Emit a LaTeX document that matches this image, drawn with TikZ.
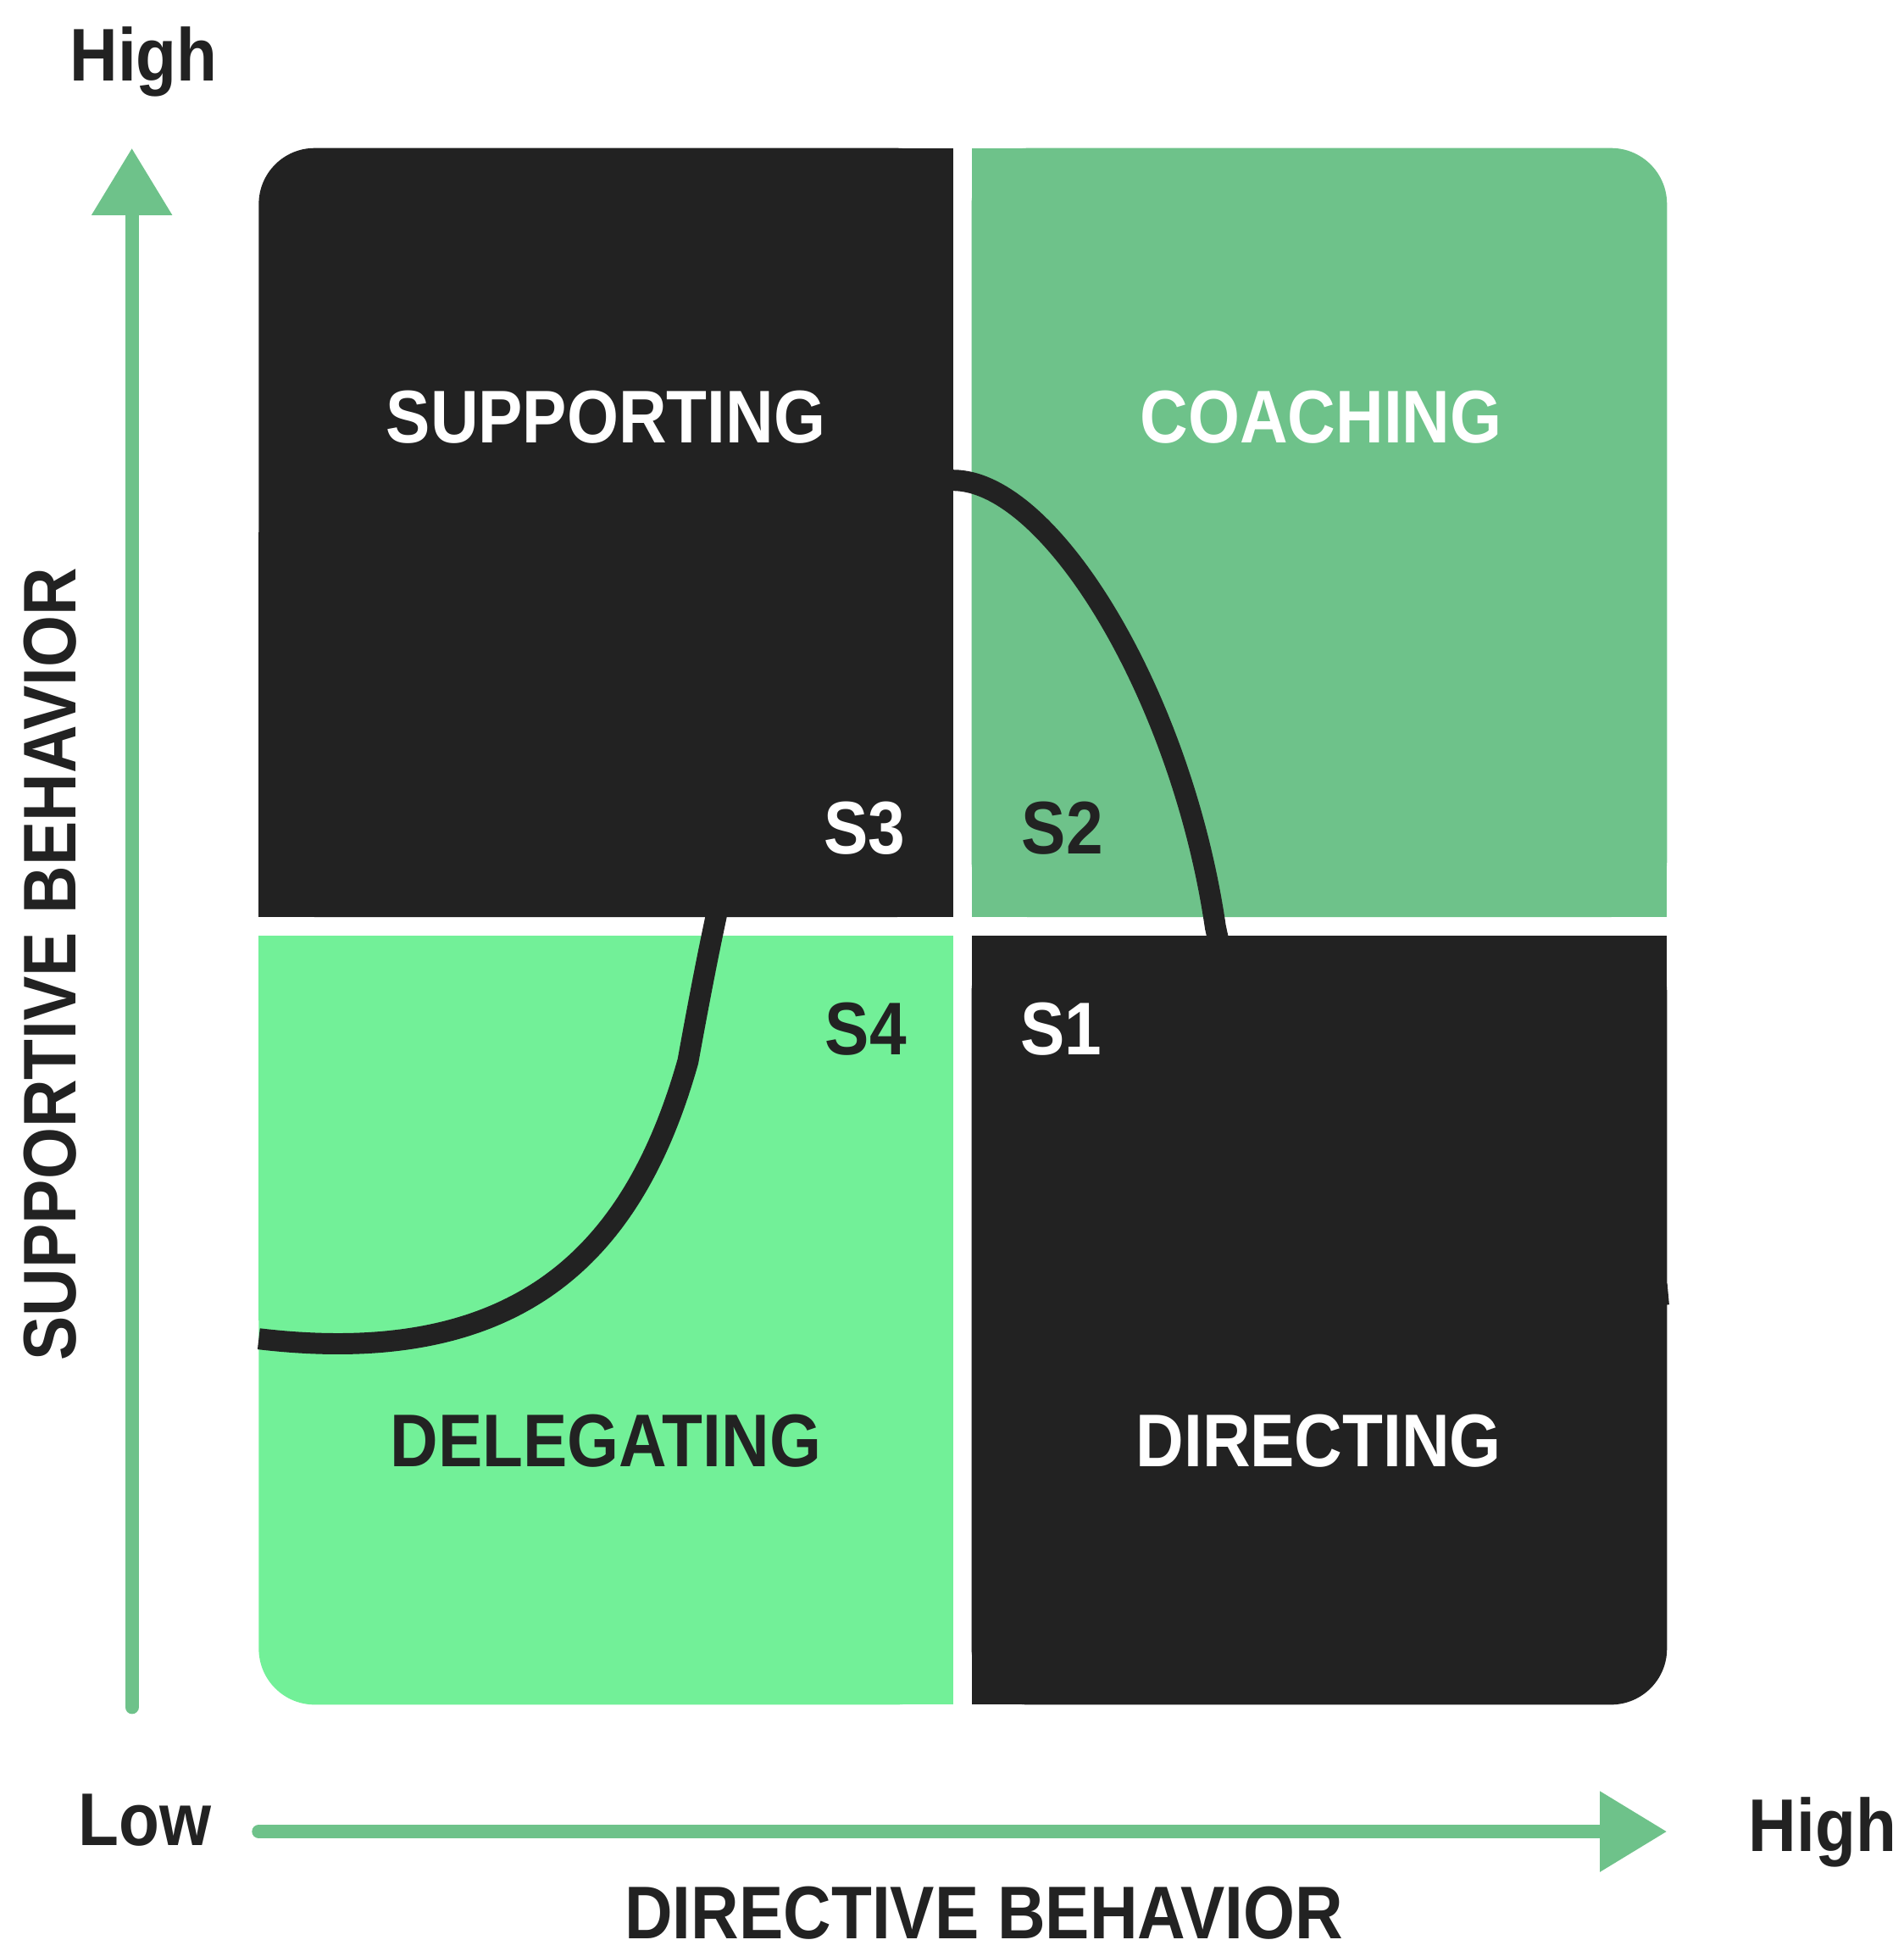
\documentclass[tikz,border=0pt]{standalone}
\usepackage{fontspec}
\setmainfont{Liberation Sans}[FakeStretch=0.89]
\usetikzlibrary{arrows.meta}
\definecolor{dk}{HTML}{222222}
\definecolor{mg}{HTML}{6EC28A}
\definecolor{lg}{HTML}{72F098}
\begin{document}
\begin{tikzpicture}[x=1pt,y=-1pt,
  lbl/.style={font=\fontsize{60}{60}\selectfont\bfseries, inner sep=0pt, anchor=base},
  axisarrow/.style={draw=mg, line width=11pt, line cap=round, -{Triangle[length=54pt,width=62pt]}},
  curveline/.style={draw=dk, line width=17pt}]
\useasboundingbox (0,0) rectangle (1530,1568);
% quadrants
\fill[dk, rounded corners=45pt] (208,119) rectangle (766,737);
\fill[dk] (487,119) rectangle (766,737);
\fill[dk] (208,428) rectangle (766,737);
\fill[mg, rounded corners=45pt] (781,119) rectangle (1340,737);
\fill[mg] (781,119) rectangle (1060,737);
\fill[mg] (781,428) rectangle (1340,737);
\fill[lg, rounded corners=45pt] (208,752) rectangle (766,1370);
\fill[lg] (487,752) rectangle (766,1370);
\fill[lg] (208,752) rectangle (766,1061);
\fill[dk, rounded corners=45pt] (781,752) rectangle (1340,1370);
\fill[dk] (781,752) rectangle (1060,1370);
\fill[dk] (781,752) rectangle (1340,1061);
% curve
\coordinate (c0) at (208,1076);
\coordinate (c1) at (553,853);
\coordinate (pk) at (766,386);
\coordinate (c3) at (977,745);
\coordinate (c4) at (1341,1040);
\draw[curveline] (c0) .. controls (420,1101) and (510,1005) .. (c1)
   .. controls (582,694) and (640,386) .. (pk)
   .. controls (845,386) and (950,560) .. (c3)
   .. controls (1015,925) and (1130,1060) .. (c4);
% axes
\coordinate (ybot) at (106,1372);
\coordinate (ytop) at (106,119);
\coordinate (xleft) at (208,1472);
\coordinate (xright) at (1340,1472);
\draw[axisarrow] (ybot) -- (ytop);
\draw[axisarrow] (xleft) -- (xright);
% quadrant labels
\node[lbl, text=white] (sup) at (487,356) {SUPPORTING};
\node[lbl, text=white] (coa) at (1062,356) {COACHING};
\node[lbl, text=dk] (del) at (487,1179) {DELEGATING};
\node[lbl, text=white] (dir) at (1060,1179) {DIRECTING};
\node[lbl, text=white] (s3) at (695,686) {S3};
\node[lbl, text=dk] (s2) at (854,686) {S2};
\node[lbl, text=dk] (s4) at (696,848) {S4};
\node[lbl, text=white] (s1) at (853,848) {S1};
% axis labels
\node[lbl, text=dk] (hi1) at (115.5,65) {High};
\node[lbl, text=dk] (lo) at (116.5,1483) {Low};
\node[lbl, text=dk] (hi2) at (1465,1488) {High};
\node[lbl, text=dk] (xlab) at (791,1558) {DIRECTIVE BEHAVIOR};
\node[lbl, text=dk, rotate=90] (ylab) at (61,775) {SUPPORTIVE BEHAVIOR};
\end{tikzpicture}
\end{document}
